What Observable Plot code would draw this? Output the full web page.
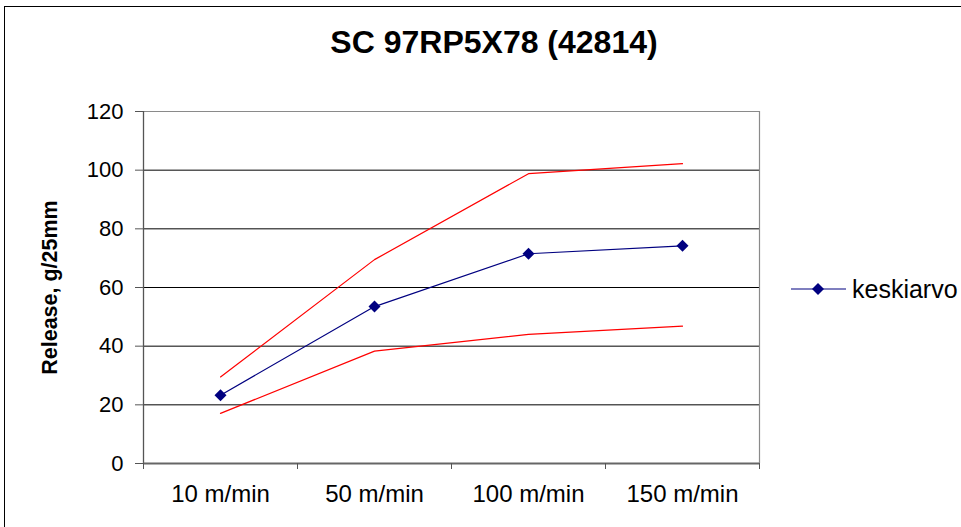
<!DOCTYPE html>
<html>
<head>
<meta charset="utf-8">
<script src="https://cdn.jsdelivr.net/npm/d3@7"></script>
<script src="https://cdn.jsdelivr.net/npm/@observablehq/plot@0.6"></script>
<style>
  html, body { margin: 0; padding: 0; background: #fff; overflow: hidden; }
  body { width: 961px; height: 527px; position: relative; font-family: "Liberation Sans", Arial, sans-serif; }
  #frame { position: absolute; left: 4px; top: 6px; width: 1000px; height: 600px; border: 1.5px solid #000; box-sizing: border-box; }
  #chart { position: absolute; left: 0; top: 0; }
  #title { position: absolute; left: 0; width: 988px; top: 26px; text-align: center; font-weight: bold; font-size: 32px; line-height: 32px; color: #000; }
  #legend { position: absolute; left: 789px; top: 274px; display: flex; align-items: center; }
  #legend span { font-size: 25px; color: #000; margin-left: 5px; }
</style>
</head>
<body>
<div id="frame"></div>
<div id="chart"></div>
<div id="title">SC 97RP5X78 (42814)</div>
<div id="legend"></div>
<script>
const categories = ["10 m/min", "50 m/min", "100 m/min", "150 m/min"];
const meanValues = [23.3, 53.5, 71.5, 74.2];
const upperValues = [29.5, 69.5, 98.8, 102.2];
const lowerValues = [17.1, 38.3, 44.0, 46.8];
const yTicks = [0, 20, 40, 60, 80, 100, 120];
const gridValues = [20, 40, 60, 80, 100];
const seriesName = "keskiarvo";
const yLabel = "Release, g/25mm";

const rows = (vals) => vals.map((v, i) => ({pos: i + 0.5, value: v, cat: categories[i]}));
const meanData = rows(meanValues);
const upperData = rows(upperValues);
const lowerData = rows(lowerValues);
const boundaries = d3.range(categories.length + 1);
const centers = categories.map((c, i) => i + 0.5);

const font = "'Liberation Sans', Arial, sans-serif";

const chart = Plot.plot({
  width: 961,
  height: 527,
  marginLeft: 143,
  marginRight: 202,
  marginTop: 111,
  marginBottom: 64,
  style: {fontFamily: font, background: "transparent", color: "#000", overflow: "visible"},
  x: {type: "linear", domain: [0, categories.length]},
  y: {domain: [0, 120]},
  marks: [
    Plot.ruleY(gridValues, {stroke: "#000", strokeWidth: 1}),
    Plot.ruleY([120], {stroke: "#8a8a8a", strokeWidth: 1.2}),
    Plot.ruleX([categories.length], {stroke: "#8a8a8a", strokeWidth: 1.2}),
    Plot.ruleX([0], {stroke: "#555", strokeWidth: 1.3}),
    Plot.ruleY([0], {stroke: "#666", strokeWidth: 2}),
    Plot.axisY({ticks: yTicks, tickSize: 8, tickPadding: 12, fontSize: 22, stroke: "#555", label: null, tickFormat: d3.format("d")}),
    Plot.axisX({ticks: boundaries, tickSize: 6, tickFormat: () => "", stroke: "#555", label: null}),
    Plot.axisX({ticks: centers, tickSize: 0, tickPadding: 21, fontSize: 24, tickFormat: (d) => categories[Math.round(d - 0.5)], label: null}),
    Plot.text([yLabel], {frameAnchor: "left", textAnchor: "middle", dx: -93, rotate: -90, fontSize: 21.5, fontWeight: "bold", fill: "#000"}),
    Plot.line(upperData, {x: "pos", y: "value", stroke: "#ff0000", strokeWidth: 1.2}),
    Plot.line(lowerData, {x: "pos", y: "value", stroke: "#ff0000", strokeWidth: 1.2}),
    Plot.line(meanData, {x: "pos", y: "value", stroke: "#000080", strokeWidth: 1.2}),
    Plot.dot(meanData, {x: "pos", y: "value", symbol: "diamond2", r: 5.4, fill: "#000080", stroke: "none"})
  ]
});
document.getElementById("chart").appendChild(chart);

// legend
const leg = document.getElementById("legend");
const sw = d3.create("svg").attr("width", 58).attr("height", 30);
sw.append("line").attr("x1", 2).attr("x2", 57).attr("y1", 15).attr("y2", 15).attr("stroke", "#000080").attr("stroke-width", 1.2);
sw.append("path").attr("d", d3.symbol(d3.symbolDiamond2, 92)()).attr("transform", "translate(29,15)").attr("fill", "#000080");
leg.appendChild(sw.node());
const lab = document.createElement("span");
lab.textContent = seriesName;
leg.appendChild(lab);
</script>
</body>
</html>
